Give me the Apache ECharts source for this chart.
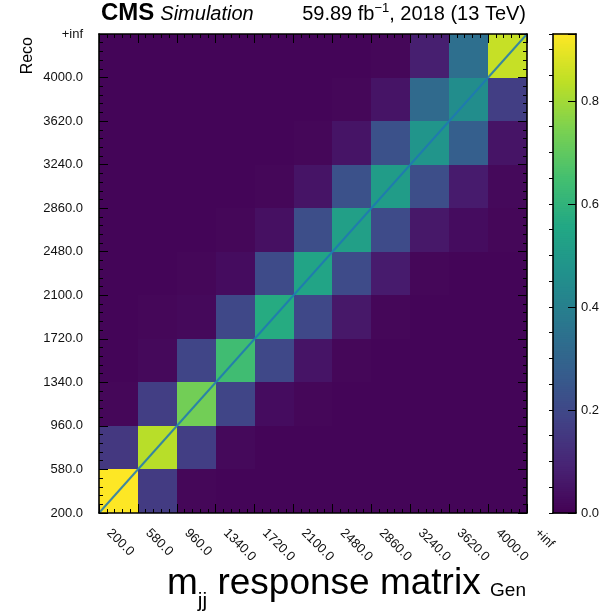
<!DOCTYPE html>
<html>
<head>
<meta charset="utf-8">
<script src="https://cdn.jsdelivr.net/npm/echarts@6/dist/echarts.min.js"></script>
<style>
  html, body { margin: 0; padding: 0; background: #ffffff; }
  #chart { width: 611px; height: 616px; }
</style>
</head>
<body>
<div id="chart"></div>
<script>
// Bin edges of m_jj (GeV), shared by Gen (x) and Reco (y)
const binEdges = ['200.0', '580.0', '960.0', '1340.0', '1720.0', '2100.0',
                  '2480.0', '2860.0', '3240.0', '3620.0', '4000.0', '+inf'];

// Response matrix: one row per Reco bin, entries per Gen bin (low -> high)
const reco200  = [0.93, 0.16, 0.015, 0.01, 0.01, 0.01, 0.01, 0.01, 0.01, 0.01, 0.01];
const reco580  = [0.15, 0.83, 0.17, 0.02, 0.01, 0.01, 0.01, 0.01, 0.01, 0.01, 0.01];
const reco960  = [0.015, 0.17, 0.73, 0.19, 0.03, 0.015, 0.01, 0.01, 0.01, 0.01, 0.01];
const reco1340 = [0.01, 0.02, 0.19, 0.64, 0.20, 0.05, 0.015, 0.01, 0.01, 0.01, 0.01];
const reco1720 = [0.01, 0.015, 0.02, 0.20, 0.57, 0.20, 0.06, 0.015, 0.01, 0.01, 0.01];
const reco2100 = [0.01, 0.01, 0.015, 0.03, 0.21, 0.54, 0.21, 0.07, 0.015, 0.01, 0.01];
const reco2480 = [0.01, 0.01, 0.01, 0.015, 0.04, 0.22, 0.52, 0.21, 0.06, 0.03, 0.015];
const reco2860 = [0.01, 0.01, 0.01, 0.01, 0.015, 0.05, 0.23, 0.51, 0.22, 0.07, 0.02];
const reco3240 = [0.01, 0.01, 0.01, 0.01, 0.01, 0.015, 0.05, 0.23, 0.48, 0.28, 0.05];
const reco3620 = [0.01, 0.01, 0.01, 0.01, 0.01, 0.01, 0.015, 0.05, 0.32, 0.45, 0.17];
const reco4000 = [0.01, 0.01, 0.01, 0.01, 0.01, 0.01, 0.01, 0.015, 0.08, 0.34, 0.85];

const recoRows = [reco200, reco580, reco960, reco1340, reco1720, reco2100,
                  reco2480, reco2860, reco3240, reco3620, reco4000];

// Colour bar tick labels
const colorTicks = [0.0, 0.2, 0.4, 0.6, 0.8];

// viridis colour map
const viridis = ['#440154', '#482475', '#414487', '#355f8d', '#2a788e', '#21918c',
                 '#22a884', '#44bf70', '#7ad151', '#bddf26', '#fde725'];

const FONT = '"Liberation Sans", Arial, Helvetica, sans-serif';
const nBins = binEdges.length - 1;

const cells = [];
recoRows.forEach((row, r) => row.forEach((v, c) => cells.push([c, r, v])));
const vmax = Math.max(...cells.map(d => d[2]));

// thin slices used to paint the colour bar
const barSteps = [];
const NSTEP = 240;
for (let i = 0; i < NSTEP; i++) {
  const lo = vmax * i / NSTEP, hi = vmax * (i + 1) / NSTEP;
  barSteps.push([lo, hi, (lo + hi) / 2]);
}

const measureCtx = document.createElement('canvas').getContext('2d');
function textWidth(str, font) { measureCtx.font = font; return measureCtx.measureText(str).width; }

const chart = echarts.init(document.getElementById('chart'), null, { renderer: 'canvas' });

const GRID = { left: 99, top: 34, width: 428, height: 479 };
const BAR = { left: 553, top: 34, width: 23, height: 479 };

const tickStyle = { color: '#000', width: 1 };
const frameLine = { show: true, onZero: false, lineStyle: { color: '#000', width: 1.6 } };

function binAxis(position, showLabels) {
  const isX = position === 'bottom' || position === 'top';
  return {
    type: 'value', gridIndex: 0, position: position, z: 10,
    min: 0, max: nBins, interval: 1,
    axisLine: frameLine,
    axisTick: { show: true, inside: true, length: 9, lineStyle: tickStyle },
    minorTick: { show: true, splitNumber: 5, length: 4, lineStyle: tickStyle },
    splitLine: { show: false }, minorSplitLine: { show: false },
    axisLabel: showLabels ? (isX ? {
      show: true, interval: 0, hideOverlap: false, showMinLabel: true, showMaxLabel: true,
      formatter: v => binEdges[v] || '', rotate: -45, margin: 8,
      padding: [0, 0, 0, 14],
      fontSize: 13, color: '#111', fontFamily: FONT
    } : {
      show: true, interval: 0, hideOverlap: false, showMinLabel: true, showMaxLabel: true,
      formatter: v => binEdges[v] || '', margin: 16, padding: [6, 0, 0, 0],
      fontSize: 13, color: '#111', fontFamily: FONT
    }) : { show: false }
  };
}

function frameAxis(position, isX) {
  return {
    type: 'value', gridIndex: 1, position: position, z: 10,
    min: 0, max: isX ? 1 : vmax,
    axisLine: frameLine, axisTick: { show: false }, axisLabel: { show: false },
    splitLine: { show: false }
  };
}

// pixel-snapped rectangle between two data corners
function snappedRect(a, b, col) {
  const x0 = Math.round(Math.min(a[0], b[0])), x1 = Math.round(Math.max(a[0], b[0]));
  const y0 = Math.round(Math.min(a[1], b[1])), y1 = Math.round(Math.max(a[1], b[1]));
  return {
    type: 'rect',
    shape: { x: x0, y: y0, width: x1 - x0, height: y1 - y0 },
    style: { fill: col }
  };
}

const option = {
  backgroundColor: '#ffffff',
  animation: false,
  grid: [GRID, BAR],
  visualMap: {
    type: 'continuous', show: false, min: 0, max: vmax, dimension: 2,
    seriesIndex: [0, 2], inRange: { color: viridis }
  },
  xAxis: [
    binAxis('bottom', true),
    binAxis('top', false),
    frameAxis('bottom', true),
    frameAxis('top', true)
  ],
  yAxis: [
    binAxis('left', true),
    binAxis('right', false),
    frameAxis('left', false),
    {
      type: 'value', gridIndex: 1, position: 'right', z: 10,
      min: 0, max: vmax, interval: 0.2,
      axisLine: frameLine,
      axisTick: { show: true, inside: true, length: 8, lineStyle: tickStyle },
      splitLine: { show: false },
      axisLabel: {
        show: true, margin: 5, padding: [6, 0, 0, 0], fontSize: 13, color: '#111', fontFamily: FONT,
        formatter: v => {
          const t = colorTicks.find(c => Math.abs(c - v) < 1e-6);
          return t === undefined ? '' : t.toFixed(1);
        }
      }
    },
    {
      type: 'value', gridIndex: 1, position: 'right', z: 10,
      min: 0, max: vmax, interval: 0.05,
      axisLine: { show: false },
      axisTick: { show: true, inside: true, length: 4, lineStyle: tickStyle },
      axisLabel: { show: false }, splitLine: { show: false }
    }
  ],
  series: [
    {
      type: 'custom', name: 'response', xAxisIndex: 0, yAxisIndex: 0,
      data: cells, silent: true,
      renderItem: (params, api) => {
        const c = api.value(0), r = api.value(1);
        return snappedRect(api.coord([c, r + 1]), api.coord([c + 1, r]), api.visual('color'));
      }
    },
    {
      type: 'line', name: 'diagonal', xAxisIndex: 0, yAxisIndex: 0, z: 5,
      data: [[0, 0], [nBins, nBins]], symbol: 'none', silent: true, clip: false,
      lineStyle: { color: 'rgba(31,119,180,0.85)', width: 2 }
    },
    {
      type: 'custom', name: 'colorbar', xAxisIndex: 2, yAxisIndex: 2,
      data: barSteps, silent: true,
      renderItem: (params, api) => {
        const col = api.visual('color');
        const a = api.coord([0, api.value(1)]);
        const b = api.coord([1, api.value(0)]);
        return {
          type: 'rect',
          shape: { x: a[0], y: a[1] - 0.5, width: b[0] - a[0], height: b[1] - a[1] + 1 },
          style: { fill: col }
        };
      }
    }
  ]
};

// ---- header and axis titles ----
const graphics = [];
function addText(str, x, baseline, size, opts) {
  opts = opts || {};
  graphics.push({
    type: 'text', z: 20, silent: true,
    x: x, y: baseline - 0.35 * size, rotation: opts.rotation || 0,
    style: {
      text: str, fill: '#000', fontSize: size, fontFamily: FONT,
      fontWeight: opts.weight || 'normal', fontStyle: opts.style || 'normal',
      textAlign: opts.align || 'left', textVerticalAlign: 'middle'
    }
  });
}

const HEAD_BASE = 21;
addText('CMS', 101, HEAD_BASE + 1, 24, { weight: 'bold' });
addText('Simulation', 101 + textWidth('CMS', 'bold 24px ' + FONT) + 6, HEAD_BASE, 20, { style: 'italic' });

// luminosity label: "59.89 fb^-1, 2018 (13 TeV)"
const lumiA = '59.89 fb', lumiSup = '\u22121', lumiB = ', 2018 (13 TeV)';
const wA = textWidth(lumiA, '20px ' + FONT);
const wS = textWidth(lumiSup, '13px ' + FONT);
const wB = textWidth(lumiB, '20px ' + FONT);
const lumiStart = 526 - (wA + wS + wB);
addText(lumiA, lumiStart, HEAD_BASE, 20);
addText(lumiSup, lumiStart + wA, HEAD_BASE - 8, 13);
addText(lumiB, lumiStart + wA + wS, HEAD_BASE, 20);

// x-axis title: "m_jj response matrix" + "Gen"
const XT_BASE = 597;
const mX = 167;
const wM = textWidth('m', '37px ' + FONT);
const wJ = textWidth('jj', '21px ' + FONT);
addText('m', mX, XT_BASE, 37);
addText('jj', mX + wM, XT_BASE + 12, 21);
addText(' response matrix', mX + wM + wJ, XT_BASE, 37);
addText('Gen', 526, XT_BASE, 19, { align: 'right' });

// y-axis title
graphics.push({
  type: 'text', z: 20, silent: true, x: 28, y: 37, rotation: Math.PI / 2,
  style: { text: 'Reco', fill: '#000', fontSize: 16, fontFamily: FONT,
           textAlign: 'right', textVerticalAlign: 'middle' }
});

option.graphic = graphics;
chart.setOption(option);
</script>
</body>
</html>
